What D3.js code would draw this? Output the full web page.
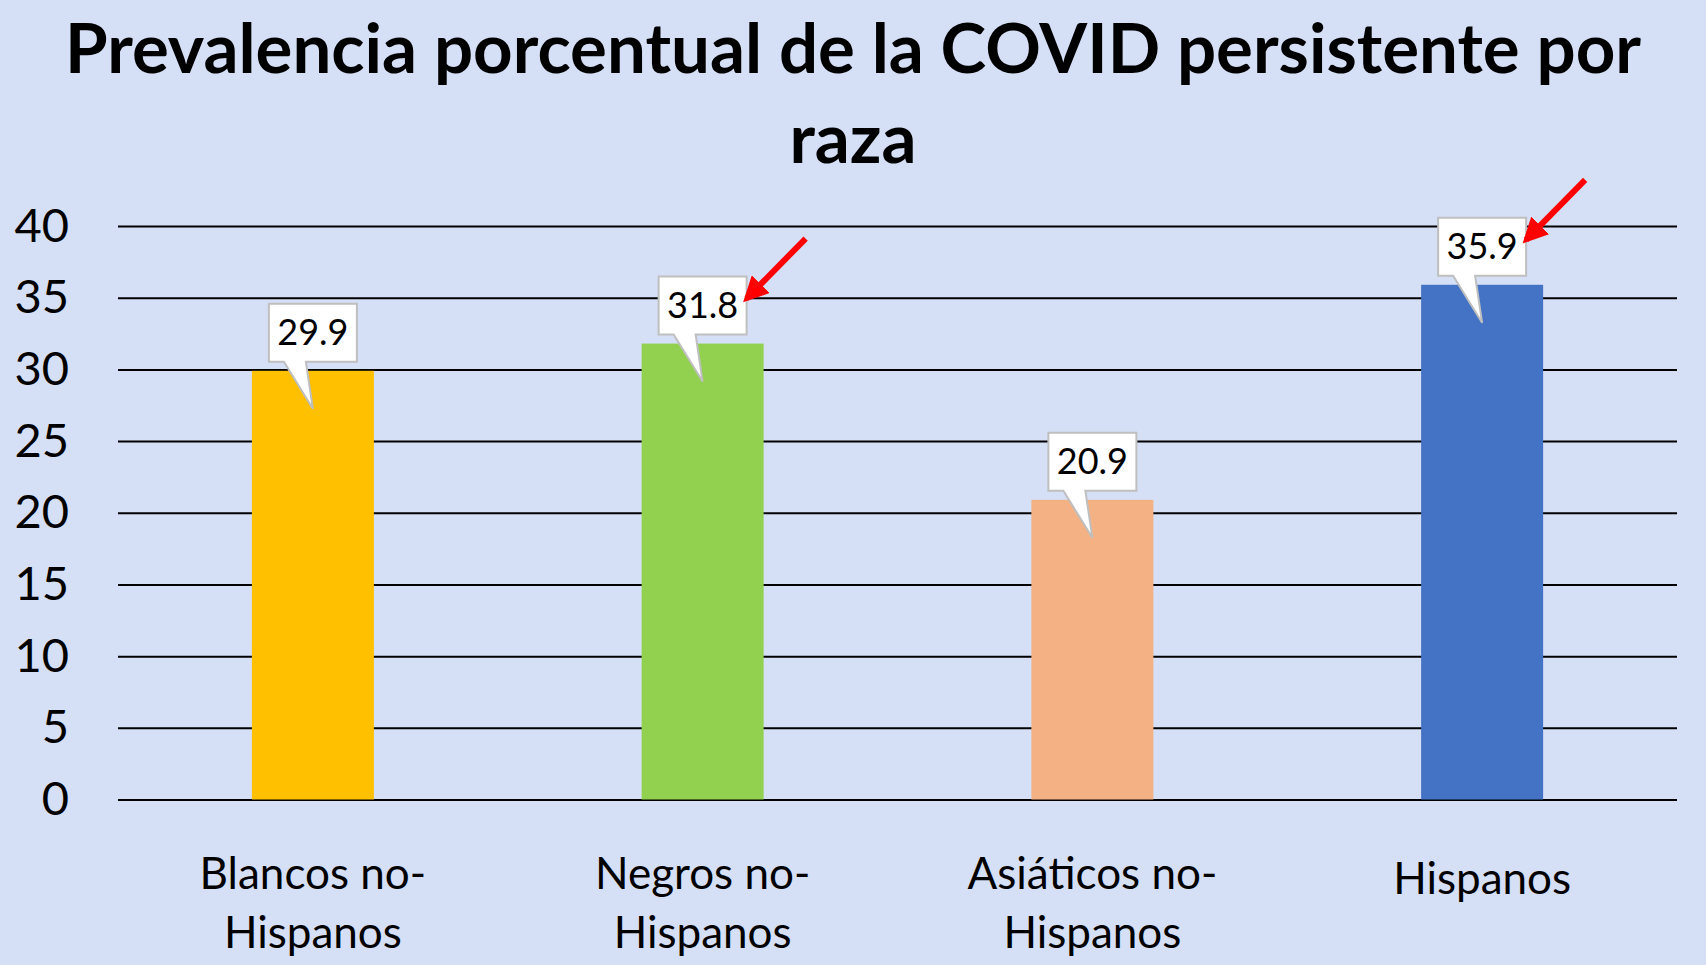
<!DOCTYPE html>
<html>
<head>
<meta charset="utf-8">
<script src="https://cdn.jsdelivr.net/npm/d3@7"></script>
<style>
  body { margin: 0; background: #D5DFF6; }
  svg { display: block; font-family: Lato, "Open Sans", sans-serif; }
</style>
</head>
<body>
<script>
// chart data
var categories = [["Blancos no-", "Hispanos"], ["Negros no-", "Hispanos"], ["Asiáticos no-", "Hispanos"], ["Hispanos"]];
var values = [29.9, 31.8, 20.9, 35.9];
var barColors = ["#FFC000", "#92D050", "#F4B183", "#4472C4"];
var highlighted = [false, true, false, true];
var yTicks = [0, 5, 10, 15, 20, 25, 30, 35, 40];
var titleLines = ["Prevalencia porcentual de la COVID persistente por", "raza"];

var W = 1706, H = 965;
var plotLeft = 118, plotRight = 1677, plotTop = 226, plotBottom = 799.5;

var svg = d3.select("body").append("svg")
    .attr("width", W)
    .attr("height", H);

svg.append("rect").attr("width", W).attr("height", H).attr("fill", "#D5DFF6");

var x = d3.scaleBand()
    .domain(d3.range(values.length))
    .range([plotLeft, plotRight])
    .paddingInner(0.687)
    .paddingOuter(0.3435);

var y = d3.scaleLinear()
    .domain([0, 40])
    .range([plotBottom, plotTop]);

// title
svg.append("g").selectAll("text")
    .data(titleLines)
    .enter().append("text")
    .attr("x", W / 2)
    .attr("y", function(d, i) { return 49 + i * 90; })
    .attr("dy", "0.35em")
    .attr("text-anchor", "middle")
    .attr("font-weight", "bold")
    .attr("font-size", 69)
    .attr("fill", "#000")
    .text(function(d) { return d; });

// gridlines + y labels
var yAxis = d3.axisLeft(y)
    .tickValues(yTicks)
    .tickSize(-(plotRight - plotLeft))
    .tickPadding(49);

var gy = svg.append("g")
    .attr("transform", "translate(" + plotLeft + ",0)")
    .call(yAxis);
gy.select(".domain").remove();
gy.selectAll(".tick line").attr("stroke", "#000").attr("stroke-width", 2);
gy.selectAll(".tick text")
    .attr("font-size", 47)
    .attr("font-family", "Lato, sans-serif")
    .attr("fill", "#000");

// bars
svg.append("g").selectAll("rect")
    .data(values)
    .enter().append("rect")
    .attr("x", function(d, i) { return x(i); })
    .attr("width", x.bandwidth())
    .attr("y", function(d) { return y(d); })
    .attr("height", function(d) { return y(0) - y(d); })
    .attr("fill", function(d, i) { return barColors[i]; });

// x labels
var xl = svg.append("g").selectAll("text")
    .data(categories)
    .enter().append("text")
    .attr("text-anchor", "middle")
    .attr("font-size", 44)
    .attr("fill", "#000");
xl.each(function(d, i) {
    var cx = x(i) + x.bandwidth() / 2;
    var t = d3.select(this);
    var y0 = d.length > 1 ? 874 : 879;
    d.forEach(function(line, j) {
        t.append("tspan")
            .attr("x", cx)
            .attr("y", y0 + j * 59)
            .attr("dy", "0.35em")
            .text(line);
    });
});

// callout labels
var boxW = 88, boxH = 58;
var callouts = svg.append("g").selectAll("g")
    .data(values)
    .enter().append("g")
    .attr("transform", function(d, i) {
        return "translate(" + (x(i) + x.bandwidth() / 2) + "," + y(d) + ")";
    });

callouts.append("path")
    .attr("d", "M" + (-boxW / 2) + "," + (-67) +
        " H" + (boxW / 2) + " V" + (-9) +
        " H-7 L0,38 L-29,-9 H" + (-boxW / 2) + " Z")
    .attr("fill", "#fff")
    .attr("stroke", "#BFBFBF")
    .attr("stroke-width", 2)
    .attr("stroke-linejoin", "miter");

callouts.append("text")
    .attr("x", 0)
    .attr("y", -38)
    .attr("dy", "0.35em")
    .attr("text-anchor", "middle")
    .attr("font-size", 36)
    .attr("fill", "#000")
    .text(function(d) { return d3.format(".1f")(d); });

// red arrows pointing to the highlighted labels
var defs = svg.append("defs");
defs.append("marker")
    .attr("id", "head")
    .attr("viewBox", "0 0 10 10")
    .attr("refX", 8)
    .attr("refY", 5)
    .attr("markerWidth", 4.2)
    .attr("markerHeight", 4.2)
    .attr("orient", "auto")
    .append("path")
    .attr("d", "M0,0 L10,5 L0,10 Z")
    .attr("fill", "#FF0000");

callouts.filter(function(d, i) { return highlighted[i]; })
    .append("line")
    .attr("x1", 103)
    .attr("y1", -105)
    .attr("x2", 44)
    .attr("y2", -45)
    .attr("stroke", "#FF0000")
    .attr("stroke-width", 6)
    .attr("marker-end", "url(#head)");
</script>
</body>
</html>
